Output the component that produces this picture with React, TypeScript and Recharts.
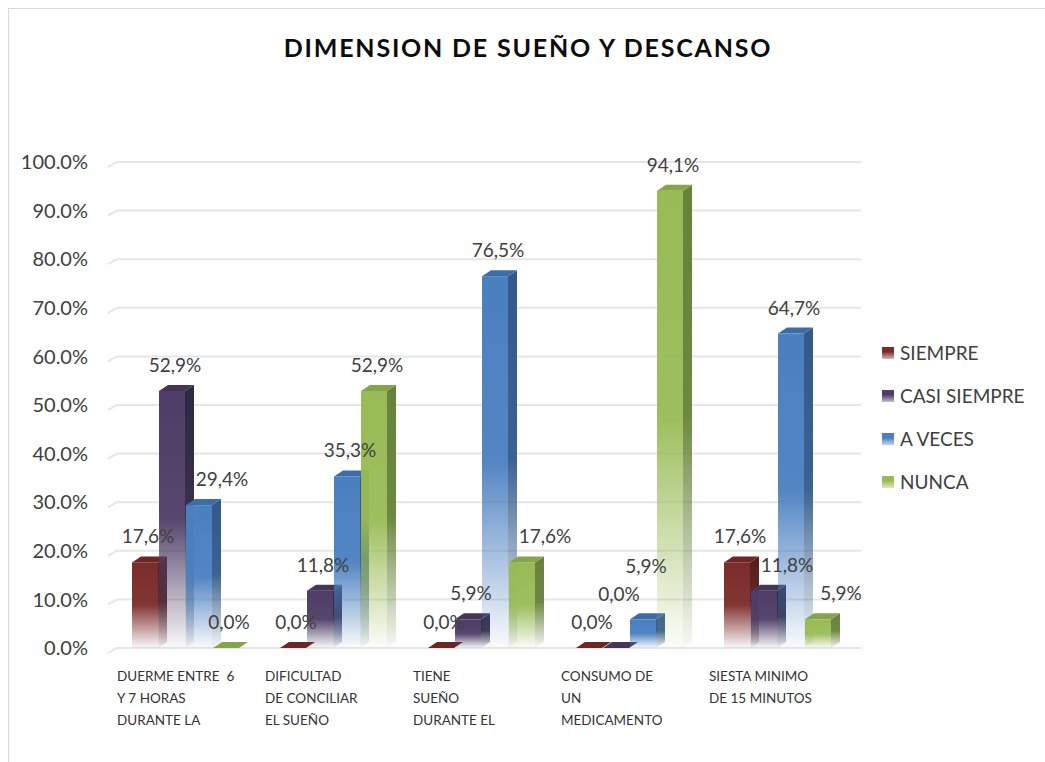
import React from 'react';
import { BarChart, Bar, XAxis, YAxis, CartesianGrid, LabelList } from 'recharts';

const categories = ['DUERME', 'DIFICULTAD', 'TIENE', 'CONSUMO', 'SIESTA'];
const tickLines = [
  ['DUERME ENTRE  6', 'Y 7 HORAS', 'DURANTE LA'],
  ['DIFICULTAD', 'DE CONCILIAR', 'EL SUEÑO'],
  ['TIENE', 'SUEÑO', 'DURANTE EL'],
  ['CONSUMO DE', 'UN', 'MEDICAMENTO'],
  ['SIESTA MINIMO', 'DE 15 MINUTOS'],
];
const seriesNames = ['SIEMPRE', 'CASI SIEMPRE', 'A VECES', 'NUNCA'];
const siempre = [17.6, 0, 0, 0, 17.6];
const casiSiempre = [52.9, 11.8, 5.9, 0, 11.8];
const aVeces = [29.4, 35.3, 76.5, 5.9, 64.7];
const nunca = [0, 52.9, 17.6, 94.1, 5.9];
const yTicks = [0, 10, 20, 30, 40, 50, 60, 70, 80, 90, 100];

const series = [siempre, casiSiempre, aVeces, nunca];
const keys = ['s0', 's1', 's2', 's3'];
const frontColors = ['#7b2c2a', '#4e3d66', '#4a7fc0', '#98bb55'];
const sideColors = ['#571d1b', '#302645', '#33598a', '#66823a'];
const topColors = ['#6c2624', '#453659', '#3e6ca6', '#84a54a'];

const data = categories.map((c, i) => ({
  name: c,
  s0: siempre[i],
  s1: casiSiempre[i],
  s2: aVeces[i],
  s3: nunca[i],
}));

const FONT = 'Lato, "Open Sans", sans-serif';
const DEPTH = 9;
const RISE = 6;
const W = 1036;
const H = 753;
const M = { top: 153, right: 194, bottom: 14, left: 0 };
const X_AXIS_H = 100;
const PX_PER_UNIT = (H - M.top - M.bottom - X_AXIS_H) / 100;
const LABEL_GAP = 25;
const LABEL_STEP = 28;

// push a label up when it would sit on the label of the previous bar
const labelLift = (si: number, ci: number): number => {
  if (si === 0) return 0;
  const prev = series[si - 1][ci];
  const cur = series[si][ci];
  if (cur < prev) return 0;
  const prevPos = prev * PX_PER_UNIT + labelLift(si - 1, ci);
  const curPos = cur * PX_PER_UNIT;
  return curPos < prevPos + LABEL_STEP ? prevPos + LABEL_STEP - curPos : 0;
};

// nudge a label right when the previous bar is taller and would hide it
const labelShift = (si: number, ci: number): number => {
  if (si === 0) return 0;
  const cur = series[si][ci];
  return cur > 0 && cur < series[si - 1][ci] ? 20 : 0;
};

const Bar3D = (props: any) => {
  const { x, y, width, height, idx } = props;
  const h = Math.max(0, height || 0);
  const top = `M${x},${y} L${x + DEPTH},${y - RISE} L${x + width + DEPTH},${y - RISE} L${x + width},${y} Z`;
  const side = `M${x + width},${y} L${x + width + DEPTH},${y - RISE} L${x + width + DEPTH},${y + h - RISE} L${x + width},${y + h} Z`;
  return (
    <g>
      {h > 0 && <rect x={x} y={y} width={width} height={h} fill={`url(#front${idx})`} />}
      {h > 0 && <path d={side} fill={`url(#side${idx})`} />}
      <path d={top} fill={topColors[idx]} />
    </g>
  );
};

const makeLabel = (si: number) => (props: any) => {
  const { x, y, width, value, index } = props;
  return (
    <text
      x={x + width / 2 + 3 + labelShift(si, index)}
      y={y - LABEL_GAP + 6 - labelLift(si, index)}
      textAnchor="middle"
      fontSize={19}
      fontFamily={FONT}
      fill="#404040"
    >
      {Number(value).toFixed(1).replace('.', ',')}%
    </text>
  );
};

const XTick = (props: any) => {
  const { x, y, payload } = props;
  const lines = tickLines[payload.index] || [];
  return (
    <g>
      {lines.map((l, i) => (
        <text
          key={i}
          x={x - 68}
          y={y + 33 + i * 22}
          fontSize={13.5}
          fontFamily={FONT}
          fill="#333"
          style={{ whiteSpace: 'pre' }}
        >
          {l}
        </text>
      ))}
    </g>
  );
};

const gridLine = (props: any) => {
  const { x1, x2, y1 } = props;
  return (
    <path
      key={`g${y1}`}
      d={`M${x1 - 3},${y1 + 5} L${x1 + 6},${y1} L${x2 + 10},${y1}`}
      stroke="#e6e6e6"
      strokeWidth={2}
      fill="none"
    />
  );
};

export default function App() {
  return (
    <div
      style={{
        position: 'fixed',
        left: 8,
        top: 8,
        width: 1037,
        height: 754,
        borderTop: '1px solid #d9d9d9',
        borderLeft: '1px solid #d9d9d9',
        background: '#fff',
      }}
    >
      <div
        style={{
          position: 'absolute',
          top: 23,
          left: 0,
          width: 1038,
          textAlign: 'center',
          fontFamily: FONT,
          fontWeight: 700,
          fontSize: 25,
          letterSpacing: 1.8,
          color: '#0d0d0d',
        }}
      >
        DIMENSION DE SUEÑO Y DESCANSO
      </div>
      <div style={{ position: 'absolute', left: 873, top: 322, fontFamily: FONT }}>
        {seriesNames.map((n, i) => (
          <div key={n} style={{ height: 43, display: 'flex', alignItems: 'center' }}>
            <div
              style={{
                width: 12,
                height: 12,
                marginRight: 6,
                background: `linear-gradient(${frontColors[i]} 40%, #ffffff 130%)`,
              }}
            />
            <span style={{ fontSize: 19, color: '#404040', whiteSpace: 'nowrap' }}>{n}</span>
          </div>
        ))}
      </div>
      <BarChart width={W} height={H} data={data} margin={M} barSize={26} barGap={1}>
        <defs>
          {frontColors.map((c, i) => (
            <linearGradient key={`f${i}`} id={`front${i}`} x1="0" y1="0" x2="0" y2="1">
              <stop offset="0" stopColor={c} stopOpacity={1} />
              <stop offset="0.5" stopColor={c} stopOpacity={0.95} />
              <stop offset="1" stopColor={c} stopOpacity={0.03} />
            </linearGradient>
          ))}
          {sideColors.map((c, i) => (
            <linearGradient key={`s${i}`} id={`side${i}`} x1="0" y1="0" x2="0" y2="1">
              <stop offset="0" stopColor={c} stopOpacity={1} />
              <stop offset="0.5" stopColor={c} stopOpacity={0.95} />
              <stop offset="1" stopColor={c} stopOpacity={0.05} />
            </linearGradient>
          ))}
        </defs>
        <CartesianGrid vertical={false} horizontal={gridLine} />
        <XAxis
          dataKey="name"
          axisLine={false}
          tickLine={false}
          tickSize={0}
          tickMargin={0}
          height={X_AXIS_H}
          interval={0}
          tick={<XTick />}
        />
        <YAxis
          domain={[0, 100]}
          ticks={yTicks}
          axisLine={false}
          tickLine={false}
          tickSize={0}
          tickMargin={23}
          width={102}
          tickFormatter={(v: number) => `${v.toFixed(1)}%`}
          tick={{ fontSize: 20, fontFamily: FONT, fill: '#404040' }}
        />
        {keys.map((k, i) => (
          <Bar
            key={k}
            dataKey={k}
            name={seriesNames[i]}
            isAnimationActive={false}
            shape={(p: any) => <Bar3D {...p} idx={i} />}
          >
            <LabelList dataKey={k} content={makeLabel(i)} />
          </Bar>
        ))}
      </BarChart>
    </div>
  );
}
